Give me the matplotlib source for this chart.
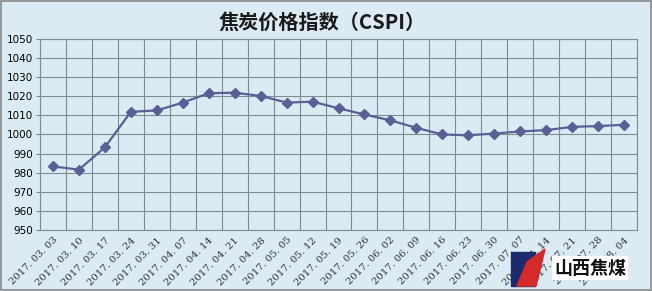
import matplotlib
matplotlib.use("Agg")
import matplotlib.pyplot as plt
from matplotlib.patches import Rectangle, Polygon

plt.rcParams['font.family'] = ['Noto Sans CJK SC', 'DejaVu Sans']

dates = ["2017. 03. 03", "2017. 03. 10", "2017. 03. 17", "2017. 03. 24", "2017. 03. 31",
         "2017. 04. 07", "2017. 04. 14", "2017. 04. 21", "2017. 04. 28", "2017. 05. 05",
         "2017. 05. 12", "2017. 05. 19", "2017. 05. 26", "2017. 06. 02", "2017. 06. 09",
         "2017. 06. 16", "2017. 06. 23", "2017. 06. 30", "2017. 07. 07", "2017. 07. 14",
         "2017. 07. 21", "2017. 07. 28", "2017. 08. 04"]
cspi = [983.3, 981.6, 993.3, 1011.9, 1012.6, 1016.7, 1021.6, 1021.9, 1020.2, 1016.7,
        1017.2, 1013.7, 1010.5, 1007.4, 1003.5, 1000.0, 999.6, 1000.5, 1001.6, 1002.3,
        1004.0, 1004.4, 1005.1]
yticks = list(range(950, 1051, 10))

bg = '#dbeaf3'
fig = plt.figure(figsize=(6.52, 2.91), dpi=100, facecolor=bg)
fig.patches.append(Rectangle((0.001, 0.002), 0.997, 0.995, transform=fig.transFigure,
                             fill=False, edgecolor='#8a8a8a', linewidth=1.2))
ax = fig.add_axes([40/652, 1 - 230/291, 597/652, 191/291])
ax.set_facecolor(bg)

x = list(range(len(dates)))
ax.plot(x, cspi, color='#5a5f96', linewidth=1.6, marker='D', markersize=5.5,
        markerfacecolor='#5a5f96', markeredgecolor='#5a5f96')

ax.set_xlim(-0.5, len(dates) - 0.5)
ax.set_ylim(950, 1050)
ax.set_yticks(yticks)
ax.set_yticklabels([str(v) for v in yticks], fontsize=7.5, family='DejaVu Sans')
ax.set_xticks(x)
ax.set_xticklabels(dates, rotation=45, ha='right', va='top', fontsize=7.2,
                   family='DejaVu Serif', rotation_mode='anchor', color='#333333')
ax.set_xticks([i + 0.5 for i in range(-1, len(dates))], minor=True)
ax.tick_params(axis='x', which='major', length=0, pad=4)
ax.tick_params(axis='x', which='minor', length=0)
ax.tick_params(axis='y', length=3, color='#7f8c92', pad=2)
ax.grid(True, axis='y', which='major', color='#7f8c92', linewidth=0.8)
ax.grid(True, axis='x', which='minor', color='#7f8c92', linewidth=0.8)
ax.set_axisbelow(True)
for s in ax.spines.values():
    s.set_color('#7f8c92')
    s.set_linewidth(0.8)

fig.text(322/652, 1 - 22/291, '焦炭价格指数（CSPI）', ha='center', va='center',
         fontsize=14.5, fontweight='bold', color='#1a1a1a')

# logo in the bottom right corner
fig.patches.append(Rectangle((511/652, 1 - 286/291), 24/652, 34/291,
                             transform=fig.transFigure, color='#1c2a6e'))
fig.patches.append(Polygon([(517/652, 1 - 286/291), (527/652, 1 - 262/291),
                            (545/652, 1 - 249/291), (536/652, 1 - 286/291)],
                           transform=fig.transFigure, color='#d42a2a'))
fig.text(590/652, 1 - 268/291, '山西焦煤', ha='center', va='center',
         fontsize=13, fontweight='bold', color='#111111',
         bbox=dict(facecolor='white', edgecolor='none', pad=1.5))

fig.savefig('out.png', dpi=100, facecolor=bg)
